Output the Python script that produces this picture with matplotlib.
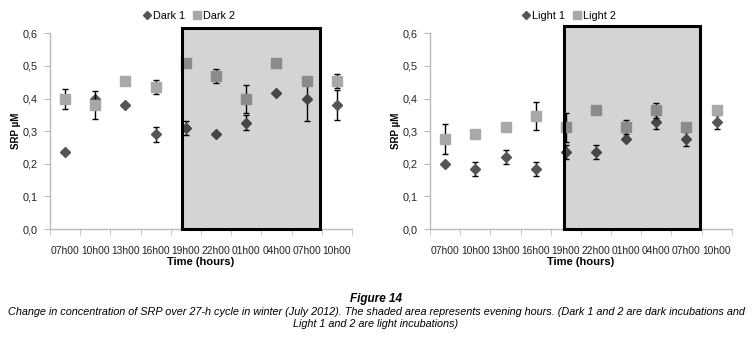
import numpy as np
import matplotlib
matplotlib.use("Agg")
import matplotlib.pyplot as plt
from matplotlib.patches import Rectangle
from matplotlib.lines import Line2D

plt.rcParams['font.family'] = ['Liberation Sans', 'DejaVu Sans']

times = ["07h00", "10h00", "13h00", "16h00", "19h00", "22h00",
         "01h00", "04h00", "07h00", "10h00"]

# left panel: dark incubations
dark1 = [0.235, 0.400, 0.379, 0.290, 0.309, 0.290, 0.326, 0.417, 0.399, 0.380]
dark1_err = [0, 0, 0, 0.022, 0.022, 0, 0.023, 0, 0.068, 0.045]
dark2 = [0.399, 0.380, 0.454, 0.435, 0.508, 0.469, 0.399, 0.508, 0.454, 0.454]
dark2_err = [0.031, 0.044, 0, 0.021, 0, 0.022, 0.044, 0, 0, 0.021]

# right panel: light incubations
light1 = [0.200, 0.185, 0.221, 0.185, 0.237, 0.237, 0.276, 0.328, 0.276, 0.328]
light1_err = [0, 0.021, 0.021, 0.021, 0.022, 0.022, 0, 0.021, 0.022, 0.021]
light2 = [0.276, 0.292, 0.312, 0.347, 0.312, 0.365, 0.312, 0.364, 0.312, 0.365]
light2_err = [0.047, 0, 0, 0.043, 0.044, 0, 0.021, 0.023, 0, 0]

# shaded "evening hours" box, in category units
boxes = [(3.88, 8.44, 0.617), (3.95, 8.46, 0.624)]

fig = plt.figure(figsize=(7.52, 3.44), dpi=100)
axL = fig.add_axes([0.0665, 0.334, 0.4015, 0.569])
axR = fig.add_axes([0.572, 0.334, 0.401, 0.569])

panels = [(axL, dark1, dark1_err, dark2, dark2_err, "Dark 1", "Dark 2", boxes[0]),
          (axR, light1, light1_err, light2, light2_err, "Light 1", "Light 2", boxes[1])]

c1, c2 = '#555555', '#a8a8a8'
x = np.arange(len(times))
for ax, s1, e1, s2, e2, n1, n2, box in panels:
    ax.errorbar(x, s1, yerr=e1, fmt='D', color=c1, ms=5.5, mec=c1,
                ecolor='black', elinewidth=1, capsize=2.5, capthick=1, zorder=3)
    ax.errorbar(x, s2, yerr=e2, fmt='s', color=c2, ms=6.5, mec=c2,
                ecolor='black', elinewidth=1, capsize=2.5, capthick=1, zorder=4)
    x0, x1, top = box
    ax.add_patch(Rectangle((x0, 0), x1 - x0, top, facecolor=(0, 0, 0, 0.17),
                           edgecolor='black', lw=2.2, zorder=5, clip_on=False))

    ax.set_xlim(-0.5, len(times) - 0.5)
    ax.set_ylim(0, 0.6)
    yt = np.arange(0, 0.61, 0.1)
    ax.set_yticks(yt)
    ax.set_yticklabels([("%.1f" % v).replace('.', ',') for v in yt])
    ax.set_xticks(x)
    ax.set_xticklabels(times)
    ax.set_xticks(np.arange(-0.5, len(times), 1.0), minor=True)
    ax.tick_params(axis='x', which='major', length=0, pad=12, labelsize=7.4,
                   labelcolor='#222222')
    ax.tick_params(axis='x', which='minor', length=4, color='#bbbbbb', direction='out')
    ax.tick_params(axis='y', length=4, color='#bbbbbb', labelsize=7.8, pad=5,
                   labelcolor='#222222')
    for s in ['top', 'right']:
        ax.spines[s].set_visible(False)
    for s in ['left', 'bottom']:
        ax.spines[s].set_color('#bbbbbb')
        ax.spines[s].set_linewidth(1)
    ax.set_ylabel("SRP µM", fontsize=7, fontweight='bold')
    ax.yaxis.set_label_coords(-0.097, 0.5)
    ax.set_xlabel("Time (hours)", fontsize=8, fontweight='bold')
    ax.xaxis.set_label_coords(0.5, -0.142)
    handles = [Line2D([], [], ls='none', marker='D', color=c1, ms=4.5),
               Line2D([], [], ls='none', marker='s', color=c2, ms=6)]
    ax.legend(handles, [n1, n2], loc='center', bbox_to_anchor=(0.457, 1.09), ncol=2,
              frameon=False, fontsize=7.8, handletextpad=0.0, columnspacing=0.5,
              handlelength=1.1, borderaxespad=0)

fig.text(0.5, 1 - 299 / 344, "Figure 14", ha='center', va='center',
         fontsize=8.5, fontweight='bold', style='italic')
fig.text(0.5, 1 - 312 / 344,
         "Change in concentration of SRP over 27-h cycle in winter (July 2012). The shaded area "
         "represents evening hours. (Dark 1 and 2 are dark incubations and",
         ha='center', va='center', fontsize=7.85, style='italic')
fig.text(0.5, 1 - 324 / 344, "Light 1 and 2 are light incubations)",
         ha='center', va='center', fontsize=7.85, style='italic')

fig.savefig("out.png", dpi=100)
